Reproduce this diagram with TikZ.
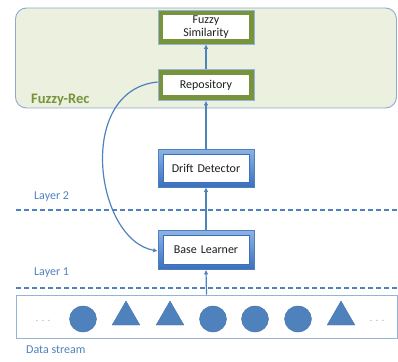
\documentclass[tikz,border=0pt]{standalone}
\usepackage{fontspec}
\setmainfont{Carlito}
\usetikzlibrary{arrows.meta,shapes.geometric}

\definecolor{ofblue}{HTML}{4F81BD}
\definecolor{lightblue}{HTML}{95B3D7}
\definecolor{shadetop}{HTML}{8DB3E2}
\definecolor{shadebot}{HTML}{3A6FBE}
\definecolor{olive}{HTML}{77933C}
\definecolor{recfill}{HTML}{EBF0DF}
\definecolor{recline}{HTML}{8EAAD0}
\definecolor{ink}{HTML}{1E1E1E}

\tikzset{
  greenbox/.style={draw=lightblue, line width=0.6pt, fill=white,
    minimum width=96pt, text width=86pt, align=center, text=ink,
    font=\fontsize{12}{13}\selectfont, inner sep=0pt,
    path picture={\draw[olive, line width=5pt]
      ([shift={(2.8pt,-2.8pt)}]path picture bounding box.north west) rectangle
      ([shift={(-2.8pt,2.8pt)}]path picture bounding box.south east);}},
  bluebox/.style={draw=ofblue, line width=0.6pt,
    top color=shadetop, bottom color=shadebot,
    minimum width=96pt, text width=86pt, align=center, text=ink,
    font=\fontsize{12}{13}\selectfont, inner sep=0pt,
    path picture={\filldraw[fill=white, draw=shadebot, line width=0.5pt]
      ([shift={(5pt,-5pt)}]path picture bounding box.north west) rectangle
      ([shift={(-5pt,5pt)}]path picture bounding box.south east);}},
  flow/.style={draw=ofblue, line width=1.2pt, -{Latex[length=4.5pt,width=4.5pt]}},
  layerline/.style={draw=ofblue, line width=1.3pt, dash pattern=on 5pt off 3pt},
  bluelabel/.style={text=ofblue, font=\fontsize{12}{13}\selectfont, anchor=west, inner sep=0pt},
  dot/.style={ellipse, fill=ofblue, draw=ofblue!90!black, line width=0.4pt,
    minimum width=27pt, minimum height=26pt, inner sep=0pt},
  tri/.style={isosceles triangle, isosceles triangle apex angle=60, shape border rotate=90,
    fill=ofblue, draw=ofblue!90!black, line width=0.4pt,
    minimum width=27pt, minimum height=24pt, inner sep=0pt},
  ellipsis/.style={text=lightblue, font=\fontsize{11}{12}\selectfont, inner sep=0pt}
}

\begin{document}
\begin{tikzpicture}[x=1pt,y=-1pt]
  \useasboundingbox (0,0) rectangle (398,361);

  % Fuzzy-Rec container
  \node (rec) [draw=recline, line width=0.9pt, fill=recfill, rounded corners=11pt,
    minimum width=381pt, minimum height=100pt, inner sep=0pt] at (206,58) {};
  \node (reclabel) [anchor=west, text=olive, inner sep=0pt,
    font=\fontsize{14.5}{16}\selectfont\bfseries] at (31,100) {Fuzzy-Rec};

  % processing boxes
  \node (sim)   [greenbox, minimum height=34pt] at (206,27) {Fuzzy\\Similarity};
  \node (repo)  [greenbox, minimum height=31pt] at (206,85) {Repository};
  \node (drift) [bluebox,  minimum height=38pt] at (206,168) {Drift Detector};
  \node (base)  [bluebox,  minimum height=39pt] at (206,250) {Base Learner};

  % layer separators
  \coordinate (l2a) at (16,210);  \coordinate (l2b) at (398,210);
  \coordinate (l1a) at (16,288);  \coordinate (l1b) at (398,288);
  \draw[layerline] (l2a) -- (l2b);
  \draw[layerline] (l1a) -- (l1b);
  \node (layer2) [bluelabel] at (34,197) {Layer 2};
  \node (layer1) [bluelabel] at (34,273) {Layer 1};

  % data stream
  \node (stream) [draw=lightblue, line width=0.8pt, minimum width=381pt,
    minimum height=43pt, inner sep=0pt] at (206.5,316.5) {};
  \node (dslabel) [bluelabel] at (26,350) {Data stream};
  \node (dl) [ellipsis] at (43,321) {. . .};
  \node (c1) [dot] at (83,319) {};
  \node (t1) [tri] at (126,317) {};
  \node (t2) [tri] at (170,317) {};
  \node (c2) [dot] at (213,319) {};
  \node (c3) [dot] at (255,319) {};
  \node (c4) [dot] at (298,319) {};
  \node (t3) [tri] at (341,317) {};
  \node (dr) [ellipsis] at (377,321) {. . .};

  % data flow
  \draw[flow] (stream.north) -- (base.south);
  \draw[flow] (base.north) -- (drift.south);
  \draw[flow] (drift.north) -- (repo.south);
  \draw[flow] (repo.north) -- (sim.south);
  \draw[flow] ([yshift=3pt]repo.west) .. controls (75,90) and (95,240) .. ([yshift=-1pt]base.west);
\end{tikzpicture}
\end{document}
